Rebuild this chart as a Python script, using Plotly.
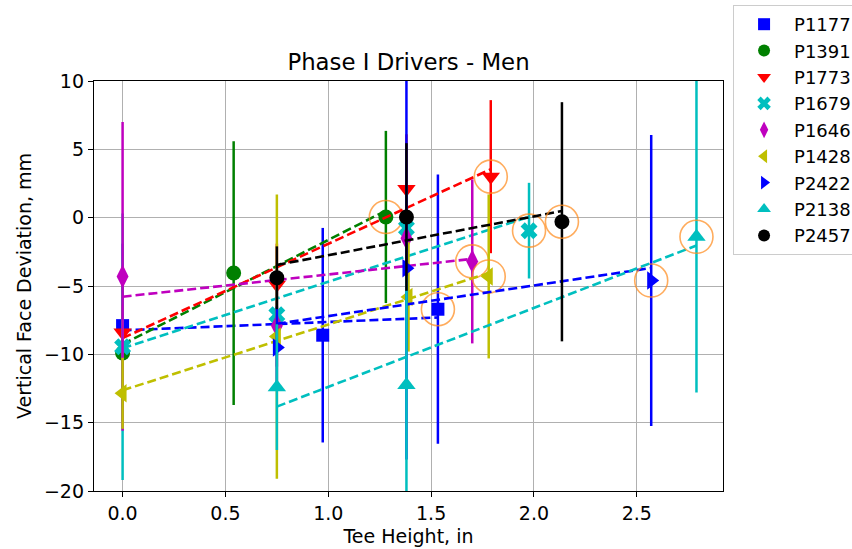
import numpy as np
import plotly.graph_objects as go

# ---- data ----
names = ["P1177", "P1391", "P1773", "P1679", "P1646", "P1428", "P2422", "P2138", "P2457"]

x_P1177 = [0.0, 0.973, 1.533]
y_P1177 = [-7.9, -8.6, -6.7]
e_P1177 = [6.0, 7.85, 9.85]

x_P1391 = [0.0, 0.54, 1.28]
y_P1391 = [-9.9, -4.05, 0.05]
e_P1391 = [5.0, 9.65, 6.3]

x_P1773 = [0.0, 0.75, 1.38, 1.79]
y_P1773 = [-8.4, -4.9, 2.1, 3.0]
e_P1773 = [2.0, 3.0, 4.0, 5.6]

x_P1679 = [0.0, 0.75, 1.38, 1.976]
y_P1679 = [-9.45, -7.1, -0.75, -0.95]
e_P1679 = [9.75, 3.0, 3.0, 3.5]

x_P1646 = [0.0, 0.75, 1.38, 1.70]
y_P1646 = [-4.3, -7.9, -1.5, -3.2]
e_P1646 = [11.3, 3.0, 3.0, 6.0]

x_P1428 = [0.0, 0.75, 1.39, 1.78]
y_P1428 = [-12.85, -8.7, -5.8, -4.3]
e_P1428 = [2.6, 10.4, 4.0, 6.0]

x_P2422 = [0.75, 1.38, 2.57]
y_P2422 = [-9.5, -3.7, -4.6]
e_P2422 = [3.0, 14.0, 10.65]

x_P2138 = [0.75, 1.38, 2.79]
y_P2138 = [-12.4, -12.25, -1.4]
e_P2138 = [4.6, 8.0, 11.4]

x_P2457 = [0.75, 1.38, 2.136]
y_P2457 = [-4.4, 0.05, -0.3]
e_P2457 = [2.3, 5.4, 8.75]

xs = [x_P1177, x_P1391, x_P1773, x_P1679, x_P1646, x_P1428, x_P2422, x_P2138, x_P2457]
ys = [y_P1177, y_P1391, y_P1773, y_P1679, y_P1646, y_P1428, y_P2422, y_P2138, y_P2457]
es = [e_P1177, e_P1391, e_P1773, e_P1679, e_P1646, e_P1428, e_P2422, e_P2138, e_P2457]

colors = ["#0000ff", "#008000", "#ff0000", "#00bfbf", "#bf00bf", "#bfbf00", "#0000ff", "#00bfbf", "#000000"]
symbols = ["square", "circle", "triangle-down", "x", "diamond-tall", "triangle-left",
           "triangle-right", "triangle-up", "circle"]
sizes = [13, 15, 16, 15, 17, 16, 16, 16, 15]

x_ticks = [0.0, 0.5, 1.0, 1.5, 2.0, 2.5]
y_ticks = [-20, -15, -10, -5, 0, 5, 10]

FONT = "DejaVu Sans"
fig = go.Figure()

for i, n in enumerate(names):
    x = np.array(xs[i]); y = np.array(ys[i])
    fig.add_trace(go.Scatter(
        x=x, y=y, mode="markers", name=n,
        marker=dict(symbol=symbols[i], size=sizes[i], color=colors[i], line=dict(width=0)),
        error_y=dict(type="data", array=es[i], visible=True, color=colors[i], thickness=2.5, width=0),
    ))
    k, b = np.polyfit(x, y, 1)
    xf = np.array([x.min(), x.max()])
    fig.add_trace(go.Scatter(
        x=xf, y=k * xf + b, mode="lines", showlegend=False, hoverinfo="skip",
        line=dict(color=colors[i], width=2.6, dash="9px,4px"),
    ))
    fig.add_trace(go.Scatter(
        x=[x[-1]], y=[y[-1]], mode="markers", showlegend=False, hoverinfo="skip",
        marker=dict(symbol="circle-open", size=33, color="rgba(255,140,30,0.72)",
                    line=dict(width=1.6, color="rgba(255,140,30,0.72)")),
    ))

axis_common = dict(
    showline=True, mirror=True, linecolor="black", linewidth=1.3,
    ticks="outside", ticklen=5, tickwidth=1.3, tickcolor="black",
    showgrid=True, gridcolor="#b0b0b0", gridwidth=1.3, zeroline=False,
    tickfont=dict(family=FONT, size=19, color="black"),
)

fig.update_layout(
    width=852, height=549,
    margin=dict(l=94, r=129, t=81, b=58, autoexpand=False),
    paper_bgcolor="white", plot_bgcolor="white",
    font=dict(family=FONT, size=19, color="black"),
    title=dict(text="Phase I Drivers - Men", x=0.5, xref="paper", xanchor="center",
               y=1 - 62 / 549, yref="container", yanchor="middle",
               font=dict(family=FONT, size=22.8, color="black")),
    xaxis=dict(range=[-0.139, 2.919], tickvals=x_ticks, tickformat=".1f",
               title=dict(text="Tee Height, in", font=dict(family=FONT, size=19), standoff=6),
               **axis_common),
    yaxis=dict(range=[-20, 10], tickvals=y_ticks,
               title=dict(text="Vertical Face Deviation, mm", font=dict(family=FONT, size=19), standoff=7),
               **axis_common),
    legend=dict(x=1.016, xanchor="left", xref="paper",
                y=1 - 5 / 549, yanchor="top", yref="container",
                bordercolor="#cccccc", borderwidth=1, bgcolor="white",
                font=dict(family=FONT, size=18), tracegroupgap=0, itemsizing="constant",
                itemwidth=50),
    showlegend=True,
)

fig.write_html("out.html")
